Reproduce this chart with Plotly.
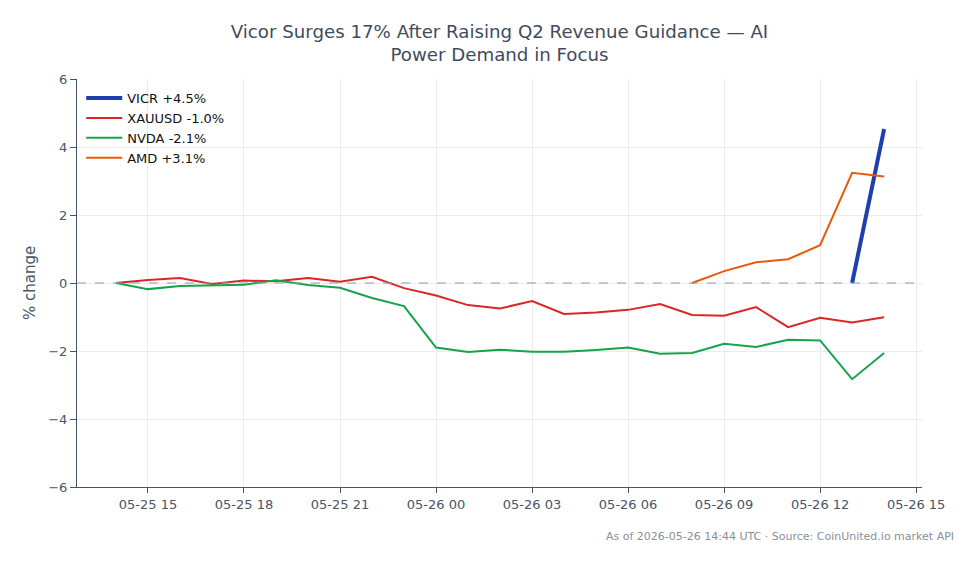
import plotly.graph_objects as go
import pandas as pd

base_times = pd.date_range("2026-05-25 14:00", "2026-05-26 14:00", freq="h")

xauusd = [0, 0.09, 0.15, -0.03, 0.07, 0.05, 0.15, 0.04, 0.18, -0.15, -0.37, -0.65, -0.75,
          -0.53, -0.91, -0.87, -0.79, -0.62, -0.94, -0.96, -0.71, -1.30, -1.02, -1.16, -1.01]
nvda = [0, -0.18, -0.09, -0.08, -0.05, 0.08, -0.06, -0.14, -0.44, -0.68, -1.90, -2.03, -1.96,
        -2.02, -2.02, -1.97, -1.90, -2.08, -2.06, -1.79, -1.88, -1.67, -1.69, -2.83, -2.06]
amd_times = pd.date_range("2026-05-26 08:00", "2026-05-26 14:00", freq="h")
amd = [0, 0.35, 0.61, 0.70, 1.11, 3.24, 3.13]
vicr_times = pd.date_range("2026-05-26 13:00", "2026-05-26 14:00", freq="h")
vicr = [0, 4.53]

font = "DejaVu Sans, Verdana, sans-serif"
axis_col = "#475569"
text_col = "#475569"

fig = go.Figure()
fig.add_trace(go.Scatter(x=vicr_times, y=vicr, mode="lines", name="VICR +4.5%",
                         line=dict(color="#1e40af", width=4)))
fig.add_trace(go.Scatter(x=base_times, y=xauusd, mode="lines", name="XAUUSD -1.0%",
                         line=dict(color="#dc2626", width=2)))
fig.add_trace(go.Scatter(x=base_times, y=nvda, mode="lines", name="NVDA -2.1%",
                         line=dict(color="#16a34a", width=2)))
fig.add_trace(go.Scatter(x=amd_times, y=amd, mode="lines", name="AMD +3.1%",
                         line=dict(color="#ea580c", width=2)))

fig.add_hline(y=0, line=dict(color="#8b9bb4", width=1.2, dash="dash"))

fig.update_layout(
    width=979, height=564,
    margin=dict(l=77, r=57, t=79, b=77),
    paper_bgcolor="white", plot_bgcolor="white",
    font=dict(family=font, size=13, color=text_col),
    title=dict(text="Vicor Surges 17% After Raising Q2 Revenue Guidance — AI<br>Power Demand in Focus",
               x=0.5, xref="paper", xanchor="center", y=0.933, yanchor="top",
               font=dict(size=18.2, color="#3f4b5e")),
    showlegend=True,
    legend=dict(x=0.005, y=0.99, xanchor="left", yanchor="top", bgcolor="rgba(255,255,255,0)",
                font=dict(size=13, color="#111111"), itemwidth=36),
    xaxis=dict(range=["2026-05-25 12:47", "2026-05-26 15:11"], tickformat="%m-%d %H",
               dtick=3 * 3600 * 1000, tick0="2026-05-25 15:00",
               showgrid=True, gridcolor="#ececf0", zeroline=False,
               showline=True, linecolor=axis_col, linewidth=1,
               ticks="outside", ticklen=5, tickcolor=axis_col,
               tickfont=dict(size=13, color=text_col)),
    yaxis=dict(range=[-6, 6], dtick=2,
               showgrid=True, gridcolor="#ececf0", zeroline=False,
               showline=True, linecolor=axis_col, linewidth=1,
               ticks="outside", ticklen=6, tickcolor=axis_col,
               tickfont=dict(size=13, color=text_col)),
    annotations=[
        dict(text="As of 2026-05-26 14:44 UTC · Source: CoinUnited.io market API",
             xref="paper", yref="paper", x=1.04, y=-0.1, xanchor="right", yanchor="top",
             showarrow=False, font=dict(size=11, color="#8a8f98")),
        dict(text="% change", xref="paper", yref="paper", x=-0.0556, y=0.5,
             xanchor="center", yanchor="middle", textangle=-90, showarrow=False,
             font=dict(size=15, color=text_col)),
    ],
)

fig.write_html("out.html")
